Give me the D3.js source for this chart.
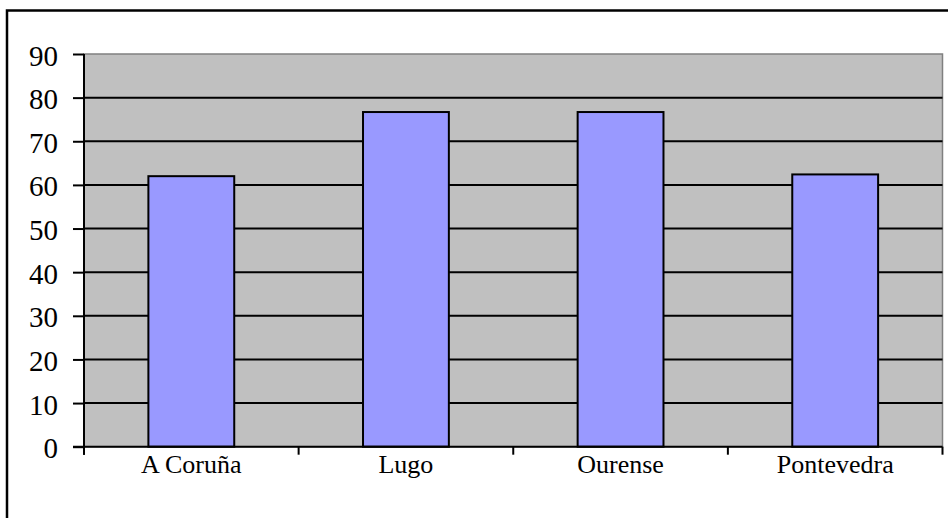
<!DOCTYPE html>
<html lang="es">
<head>
    <meta charset="UTF-8">
    <title>Provincias</title>
    <script src="https://d3js.org/d3.v7.min.js"></script>
    <style>
        body {
            margin: 0;
            background: #ffffff;
            font-family: "Liberation Serif", "Times New Roman", serif;
        }
        svg { display: block; font-family: "Liberation Serif", "Times New Roman", serif; }
        .grid line { stroke: #000; stroke-width: 2px; }
        .bar { fill: #9999ff; stroke: #000; stroke-width: 2px; }
        .ylab { font-size: 29px; fill: #000; }
        .xlab { font-size: 26px; fill: #000; }
    </style>
</head>
<body>
    <script>
        // data
        const provincias = ["A Coruña", "Lugo", "Ourense", "Pontevedra"];
        const valores = [62, 76.7, 76.7, 62.4];
        const yTicks = [0, 10, 20, 30, 40, 50, 60, 70, 80, 90];

        const width = 948, height = 518;
        const plot = { left: 84, top: 54, right: 942.5, bottom: 446.7 };

        const svg = d3.select("body")
            .append("svg")
            .attr("width", width)
            .attr("height", height);

        // outer frame (runs off the right and bottom edges)
        svg.append("path")
            .attr("d", `M7,${height + 5}V10.5H${width + 5}`)
            .attr("fill", "none")
            .attr("stroke", "#000")
            .attr("stroke-width", 2.5);

        const x = d3.scaleBand()
            .domain(provincias)
            .range([plot.left, plot.right])
            .paddingInner(0.6)
            .paddingOuter(0.3);

        const y = d3.scaleLinear()
            .domain([0, 90])
            .range([plot.bottom, plot.top]);

        // plot background
        svg.append("rect")
            .attr("x", plot.left)
            .attr("y", plot.top)
            .attr("width", plot.right - plot.left)
            .attr("height", plot.bottom - plot.top)
            .attr("fill", "#c0c0c0")
            .attr("stroke", "#808080")
            .attr("stroke-width", 1.5);

        // gridlines
        svg.append("g")
            .attr("class", "grid")
            .selectAll("line")
            .data(yTicks.filter(d => d > 0 && d < 90))
            .enter()
            .append("line")
            .attr("x1", plot.left)
            .attr("x2", plot.right)
            .attr("y1", d => y(d))
            .attr("y2", d => y(d));

        // bars
        svg.selectAll(".bar")
            .data(provincias)
            .enter()
            .append("rect")
            .attr("class", "bar")
            .attr("x", d => x(d))
            .attr("width", x.bandwidth())
            .attr("y", (d, i) => y(valores[i]))
            .attr("height", (d, i) => y(0) - y(valores[i]));

        // y axis
        const yAxis = svg.append("g")
            .attr("transform", `translate(${plot.left},0)`)
            .call(d3.axisLeft(y).tickValues(yTicks).tickSize(11).tickPadding(15));
        yAxis.attr("font-family", null).attr("font-size", null);
        yAxis.select(".domain").attr("stroke-width", 2).attr("d", `M0,${plot.top}V${plot.bottom + 8}`);
        yAxis.selectAll(".tick line").attr("stroke-width", 2);
        yAxis.selectAll(".tick text")
            .attr("class", "ylab")
            .attr("dy", "0.38em");

        // x axis: ticks at category boundaries
        const step = x.step();
        const bounds = provincias.map(d => x(d) - x.paddingOuter() * step)
            .concat([plot.right]);
        const xAxis = svg.append("g");
        xAxis.append("line")
            .attr("x1", plot.left - 11)
            .attr("x2", plot.right)
            .attr("y1", plot.bottom)
            .attr("y2", plot.bottom)
            .attr("stroke", "#000")
            .attr("stroke-width", 2);
        xAxis.selectAll(".xt")
            .data(bounds)
            .enter()
            .append("line")
            .attr("x1", d => d)
            .attr("x2", d => d)
            .attr("y1", plot.bottom)
            .attr("y2", plot.bottom + 8)
            .attr("stroke", "#000")
            .attr("stroke-width", 2);
        xAxis.selectAll(".xlab")
            .data(provincias)
            .enter()
            .append("text")
            .attr("class", "xlab")
            .attr("x", d => x(d) + x.bandwidth() / 2)
            .attr("y", 473)
            .attr("text-anchor", "middle")
            .text(d => d);
    </script>
</body>
</html>
